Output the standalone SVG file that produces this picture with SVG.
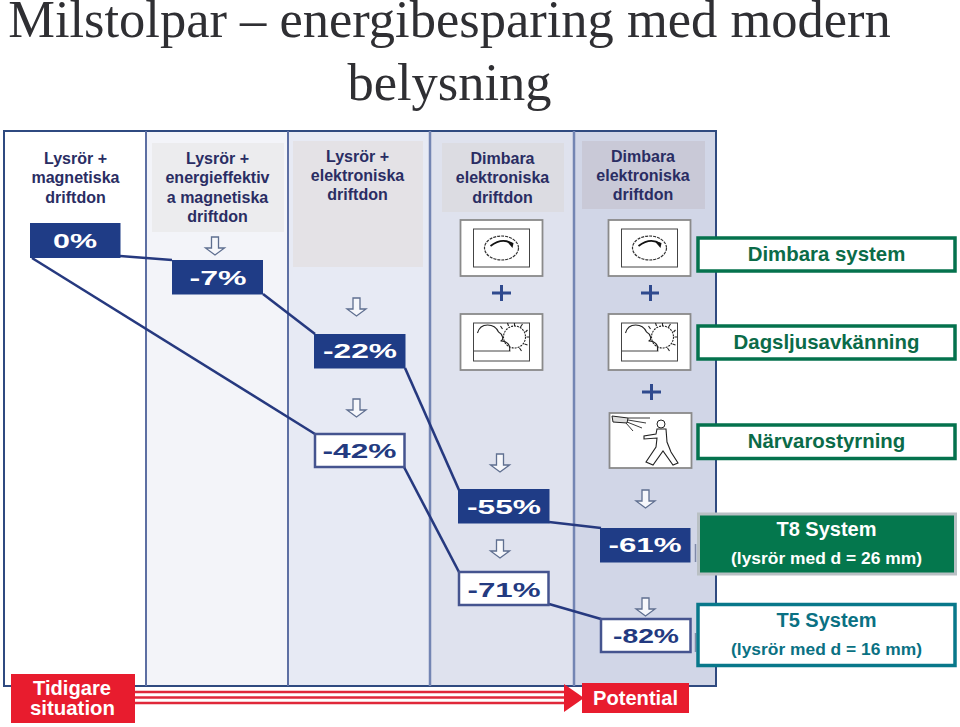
<svg xmlns="http://www.w3.org/2000/svg" width="960" height="727" viewBox="0 0 960 727">
<style>
text{font-family:"Liberation Sans",Arial,sans-serif;text-anchor:middle}
.t{font-family:"Liberation Serif","Times New Roman",serif;font-size:52.500px;fill:#2f2f33}
.h{font-size:16px;font-weight:bold;fill:#2a2d63}
.b{font-size:20px;font-weight:bold}
.bn{fill:#1f3c86}
.bw{fill:#fff;stroke:#45548f;stroke-width:2.5}
.tw{fill:#fff}.tn{fill:#233a80}
.div{stroke:#5d6fa3;stroke-width:2;fill:none}
.lk{stroke:#26397f;stroke-width:2.6;fill:none}
.ar{fill:#f6f7fb;stroke:#5f6f90;stroke-width:1.3}
.ic{fill:#fff;stroke:#8a8a8a;stroke-width:1.8}
.in{fill:none;stroke:#444;stroke-width:1}
.pl{fill:#2f4a8e}
.g{font-size:20.400px;font-weight:bold;fill:#0b6b48}
.s{fill:#fff;stroke:#04724d;stroke-width:3.5}
.r{font-size:20.500px;fill:#fff;font-weight:bold}
.rr{fill:#e81c2e}
.m{font-size:20px;font-weight:bold}
.n{font-size:17.400px;font-weight:bold}
</style>
<defs>
<path id="arrow" class="ar" d="M-3.5 0H3.5V11H9.5L0 18L-9.5 11H-3.5Z"/>
<g id="dim">
<rect class="ic" x="0" y="0" width="82" height="56"/>
<rect class="in" x="13" y="9" width="56" height="38"/>
<ellipse cx="41" cy="28" rx="17" ry="12" fill="none" stroke="#333" stroke-width="1.2" stroke-dasharray="3 1"/>
<path d="M30 26Q42 17 52 24" fill="none" stroke="#111" stroke-width="1.800"/>
<path d="M46 21L53 23L52 28Z" fill="#111"/>
</g>
<g id="sun">
<rect class="ic" x="0" y="0" width="82" height="56"/>
<rect class="in" x="13" y="9" width="56" height="38"/>
<path d="M13 37H50" class="in"/>
<path d="M17 19C20 8 34 9 38 18M38 18C42 20 44 26 40 27M40 27C48 27 50 32 49 37" fill="none" stroke="#222" stroke-width="1.1"/>
<circle cx="54" cy="23" r="11" fill="none" stroke="#222" stroke-width="1.1" stroke-dasharray="2 1"/>
<path d="M54 9V12M62 10L60 13M67 16L65 18M69 23H66M67 31L64 30M61 37L59 34M40 12L42 15M47 9L48 12" stroke="#222" stroke-width="1.1" fill="none"/>
</g>
</defs>

<g id="title">
<text class="t" x="449.500" y="37">Milstolpar – energibesparing med modern</text>
<text class="t" x="449.500" y="100">belysning</text>
</g>

<g id="panel">
<rect x="4" y="131" width="142" height="555" fill="#fff"/>
<rect x="146" y="131" width="142" height="555" fill="#f3f4f9"/>
<rect x="288" y="131" width="142" height="555" fill="#e7eaf4"/>
<rect x="430" y="131" width="144" height="555" fill="#dfe2ee"/>
<rect x="574" y="131" width="142" height="555" fill="#d1d6e7"/>
<rect x="4" y="131" width="712" height="555" fill="none" stroke="#2f4a80" stroke-width="2"/>
<path class="div" d="M146 131V686M288 131V686"/>
<path class="div" d="M430 131V686M574 131V686" style="stroke:#7385b3;stroke-width:2.500"/>
</g>

<g id="connectors">
<path class="lk" d="M120 256L172 260"/>
<path class="lk" d="M32 258L315 434"/>
<path class="lk" d="M263 294L315 334"/>
<path class="lk" d="M405 368L459 490"/>
<path class="lk" d="M404 467L459 572"/>
<path class="lk" d="M549 522L601 528"/>
<path class="lk" d="M549 604L601 619"/>
<path d="M135 692H565M135 697.500H565M135 703H565" stroke="#e0283a" stroke-width="2.600" fill="none"/>
<path d="M564 684L584 698L564 712Z" fill="#e81c2e"/>
</g>

<g id="col1">
<text class="h" x="75.500" y="164">Lysrör +</text>
<text class="h" x="75.500" y="183">magnetiska</text>
<text class="h" x="75.500" y="203">driftdon</text>
<rect class="bn" x="30" y="223" width="90.500" height="35"/>
<text class="b tw" x="75" y="248" textLength="44" lengthAdjust="spacingAndGlyphs">0%</text>
</g>

<g id="col2">
<rect x="152" y="143" width="132" height="89" fill="#ececee"/>
<text class="h" x="217.500" y="164">Lysrör +</text>
<text class="h" x="217.500" y="183">energieffektiv</text>
<text class="h" x="217.500" y="202.500">a magnetiska</text>
<text class="h" x="217.500" y="222">driftdon</text>
<use href="#arrow" x="215" y="237"/>
<rect class="bn" x="172" y="260" width="91" height="34.500"/>
<text class="b tw" x="218" y="285" textLength="57" lengthAdjust="spacingAndGlyphs">-7%</text>
</g>

<g id="col3">
<rect x="293" y="141" width="130" height="126" fill="#e4e2e6"/>
<text class="h" x="357.500" y="162">Lysrör +</text>
<text class="h" x="357.500" y="181">elektroniska</text>
<text class="h" x="357.500" y="200">driftdon</text>
<use href="#arrow" x="356.500" y="298"/>
<rect class="bn" x="314" y="334" width="91.500" height="34.500"/>
<text class="b tw" x="360" y="358" textLength="74" lengthAdjust="spacingAndGlyphs">-22%</text>
<use href="#arrow" x="356.500" y="399"/>
<rect class="bw" x="315" y="434" width="89.500" height="33"/>
<text class="b tn" x="359.500" y="458" textLength="74" lengthAdjust="spacingAndGlyphs">-42%</text>
</g>

<g id="col4">
<rect x="442" y="143" width="122" height="69" fill="#dcdce2"/>
<text class="h" x="502.500" y="164">Dimbara</text>
<text class="h" x="502.500" y="183">elektroniska</text>
<text class="h" x="502.500" y="203">driftdon</text>
<use href="#dim" x="460.500" y="220"/>
<path class="pl" d="M492 291.500H500V285H503V291.500H511V294.500H503V301H500V294.500H492Z"/>
<use href="#sun" x="460.500" y="314"/>
<use href="#arrow" x="500" y="454"/>
<rect class="bn" x="458" y="489" width="91.500" height="34.500"/>
<text class="b tw" x="504" y="514" textLength="74" lengthAdjust="spacingAndGlyphs">-55%</text>
<use href="#arrow" x="500" y="540"/>
<rect class="bw" x="459" y="572" width="89.500" height="33"/>
<text class="b tn" x="504" y="597" textLength="73" lengthAdjust="spacingAndGlyphs">-71%</text>
</g>

<g id="col5">
<rect x="582" y="141" width="123" height="68" fill="#c9c9d7"/>
<text class="h" x="643" y="162">Dimbara</text>
<text class="h" x="643" y="181">elektroniska</text>
<text class="h" x="643" y="200">driftdon</text>
<use href="#dim" x="608.500" y="220"/>
<path class="pl" d="M641 291.500H649V285H652V291.500H659V294.500H652V301H649V294.500H641Z"/>
<use href="#sun" x="608.500" y="314"/>
<path class="pl" d="M642 390.500H650V384H653V390.500H661V393.500H653V400H650V393.500H642Z"/>
<g id="walker">
<rect class="ic" x="609.500" y="413" width="82" height="55"/>
<path d="M612 416L628 418L627 423L613 422Z" fill="#ddd" stroke="#222"/>
<path d="M628 418L650 418M628 420L646 423M627 422L642 428M626 423L633 431" stroke="#222" stroke-width=".9" fill="none"/>
<circle cx="661" cy="424" r="4" fill="#fff" stroke="#222"/>
<path d="M657 429L666 429L667 442L671 452L678 463L673 465L663 451L653 465L646 462L656 447L657 438L644 439V436L656 434Z" fill="#fff" stroke="#222" stroke-width="1.100"/>
</g>
<use href="#arrow" x="645.500" y="490"/>
<rect class="bn" x="600" y="528" width="90.500" height="34.500"/>
<text class="b tw" x="645" y="552" textLength="73" lengthAdjust="spacingAndGlyphs">-61%</text>
<use href="#arrow" x="645.500" y="598"/>
<rect class="bw" x="601" y="619" width="89.500" height="33"/>
<text class="b tn" x="646" y="643" textLength="66" lengthAdjust="spacingAndGlyphs">-82%</text>
<path d="M695.500 544V562M695.500 633V652" stroke="#7f8aa8" stroke-width="1.500"/>
</g>

<g id="dimbara-system">
<rect class="s" x="698" y="238" width="257" height="33"/>
<text class="g" x="826.500" y="261">Dimbara system</text>
</g>
<g id="dagsljus">
<rect class="s" x="698" y="326" width="257" height="33"/>
<text class="g" x="826.500" y="349">Dagsljusavkänning</text>
</g>
<g id="narvaro">
<rect class="s" x="698" y="425" width="257" height="33.500"/>
<text class="g" x="826.500" y="448">Närvarostyrning</text>
</g>
<g id="t8">
<rect x="698.500" y="514" width="257" height="60" fill="#04774d" stroke="#b9c0c4" stroke-width="3"/>
<text class="m" x="826.500" y="536" fill="#fff">T8 System</text>
<text class="n" x="826.500" y="564" fill="#fff">(lysrör med d = 26 mm)</text>
</g>
<g id="t5">
<rect x="698" y="604.500" width="257" height="61" fill="#fff" stroke="#08788a" stroke-width="3.500"/>
<text class="m" x="826.500" y="627" fill="#0a7183">T5 System</text>
<text class="n" x="826.500" y="655" fill="#0a7183">(lysrör med d = 16 mm)</text>
</g>

<g id="tidigare">
<rect class="rr" x="11" y="674" width="124" height="49"/>
<text class="r" x="72" y="695" textLength="78" lengthAdjust="spacingAndGlyphs">Tidigare</text>
<text class="r" x="72.500" y="715" textLength="85" lengthAdjust="spacingAndGlyphs">situation</text>
</g>
<g id="potential">
<rect class="rr" x="582" y="683" width="107" height="30"/>
<text class="r" x="635.500" y="705" textLength="85" lengthAdjust="spacingAndGlyphs">Potential</text>
</g>
</svg>
